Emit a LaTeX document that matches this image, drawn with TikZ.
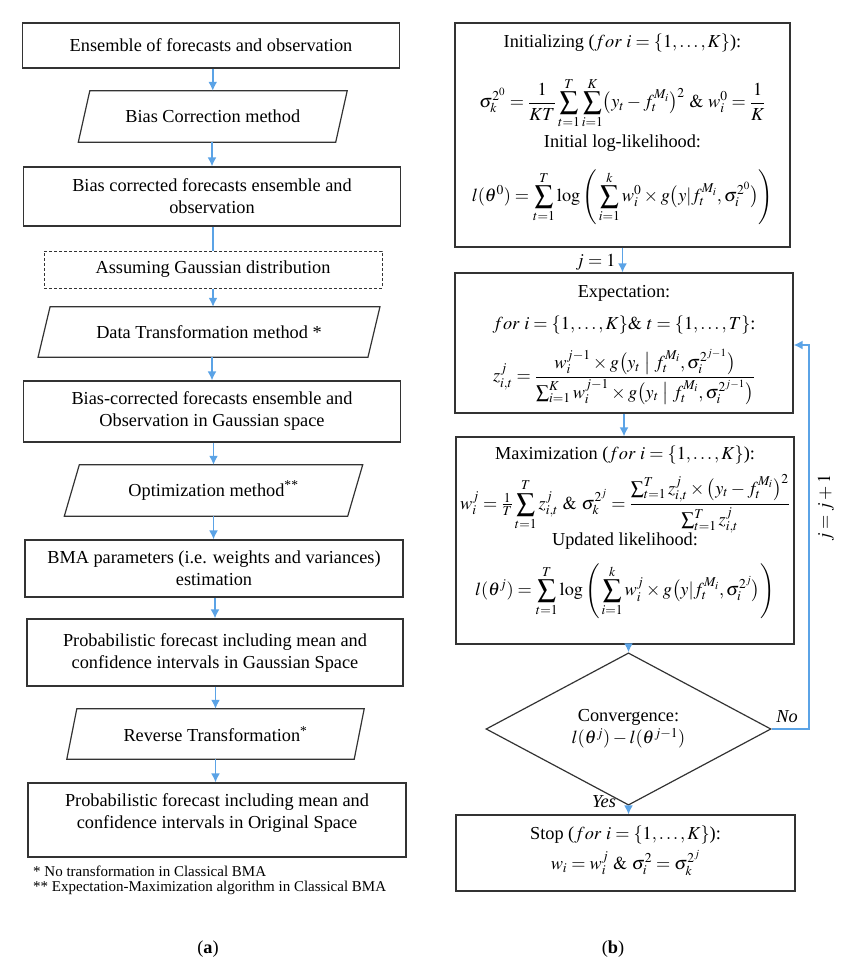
\documentclass[tikz,border=0pt]{standalone}
\usepackage{amsmath}
\usepackage{mathptmx}
\usepackage{fontspec}
\setmainfont{Liberation Serif}
\usetikzlibrary{calc,arrows.meta,shapes.geometric}
\definecolor{flowblue}{RGB}{91,163,230}
\def\paraframe(#1)(#2){\draw[boxline] ($(#1.north west)+(#2,0)$) -- ($(#1.north east)+(#2,0)$) -- ($(#1.south east)-(#2,0)$) -- ($(#1.south west)-(#2,0)$) -- cycle;}
\tikzset{
	boxline/.style={draw=black!80, line width=1.2pt},
	box/.style={boxline, rectangle, inner sep=0pt, align=center},
	para/.style={rectangle, inner sep=0pt, align=center},
	link/.style={draw=flowblue, line width=1.6pt},
	flow/.style={link, -{Latex[length=9pt,width=9pt]}},
	note/.style={inner sep=0pt, anchor=west, font=\fontsize{15}{17}\selectfont}
}

\begin{document}
\begin{tikzpicture}[x=1pt, y=-1pt, font=\fontsize{18.3}{22}\selectfont]
		%%%%% START %%%%%
		\useasboundingbox (0,0) rectangle (850,963);
		
		% left column
		\node[box, minimum width=377pt, minimum height=45pt] (ens) at (211,45.5) {Ensemble of forecasts and observation};
		\node[para, minimum width=257pt, minimum height=51pt] (bcm) at (212.75,116.5) {Bias Correction method};
		\paraframe(bcm)(5.75)
		\node[box, minimum width=377pt, minimum height=59pt] (bco) at (212,196.5) {Bias corrected forecasts ensemble and\\observation};
		\node[box, dashed, dash pattern=on 3pt off 2pt, line width=1pt, minimum width=338pt, minimum height=37pt] (gauss) at (213,269.5) {Assuming Gaussian distribution};
		\node[para, minimum width=329.5pt, minimum height=50pt] (dtm) at (209,332) {Data Transformation method *};
		\paraframe(dtm)(6)
		\node[box, minimum width=377pt, minimum height=61pt] (bgs) at (212,411.5) {Bias-corrected forecasts ensemble and\\Observation in Gaussian space};
		\node[para, minimum width=283pt, minimum height=51pt] (opt) at (213.5,490.5) {Optimization method\textsuperscript{**}};
		\paraframe(opt)(7.5)
		\node[box, minimum width=378pt, minimum height=57pt] (bma) at (214,568.5) {BMA parameters (i.e. weights and variances)\\estimation};
		\node[box, minimum width=376pt, minimum height=67pt] (pgs) at (215,652.5) {Probabilistic forecast including mean and\\confidence intervals in Gaussian Space};
		\node[para, minimum width=287pt, minimum height=50pt] (rev) at (215.5,734) {Reverse Transformation\textsuperscript{*}};
		\paraframe(rev)(5)
		\node[box, minimum width=378pt, minimum height=74pt] (pos) at (217,820) {};
		\node (posText) at (217,813) [align=center] {Probabilistic forecast including mean and\\confidence intervals in Original Space};
		
		\draw[flow] (ens.south -| bcm.north) -- (bcm.north);
		\draw[flow] (bcm.south -| bco.north) -- (bco.north);
		\draw[link] (bco.south -| gauss.north) -- (gauss.north);
		\draw[flow] (gauss.south) -- (gauss.south |- dtm.north);
		\draw[flow] (dtm.south -| bgs.north) -- (bgs.north);
		\draw[flow] (bgs.south -| opt.north) -- (opt.north);
		\draw[flow] (opt.south -| opt.north) -- (opt.north |- bma.north);
		\draw[flow] (bma.south -| pgs.north) -- (pgs.north);
		\draw[flow] (pgs.south -| rev.north) -- (rev.north);
		\draw[flow] (rev.south) -- (rev.south |- pos.north);
		
		\node[note] (fnA) at (33,871) {* No transformation in Classical BMA};
		\node[note] (fnB) at (33,888) {** Expectation-Maximization algorithm in Classical BMA};
		
		% right column
		\node[box, minimum width=335pt, minimum height=224pt] (init) at (622.5,135) {};
		\node (initHead) at (622.5,43) {Initializing ($for\ i=\{1,\dots,K\}$):};
		\node (initEq) at (622.5,103) {$\displaystyle \sigma_k^{2^0}=\frac{1}{KT}\sum_{t=1}^{T}\sum_{i=1}^{K}\bigl(y_t-f_t^{M_i}\bigr)^2\ \&\ w_i^0=\frac{1}{K}$};
		\node (initLog) at (622.5,143) {Initial log-likelihood:};
		\node (initLik) at (622.5,197) {$\displaystyle l(\theta^0)=\sum_{t=1}^{T}\log\left(\,\sum_{i=1}^{k}w_i^0\times g\bigl(y|f_t^{M_i},\sigma_i^{2^0}\bigr)\right)$};
		
		\node[box, minimum width=338pt, minimum height=140pt] (exp) at (624,343) {};
		\node (expHead) at (624,293) {Expectation:};
		\node (expFor) at (624,325) {$for\ i=\{1,\dots,K\}\&\ t=\{1,\dots,T\}$:};
		\node (expEq) at (624,377) {$\displaystyle z_{i,t}^{j}=\frac{w_i^{j-1}\times g\bigl(y_t\bigm|f_t^{M_i},\sigma_i^{2^{j-1}}\bigr)}{\sum_{i=1}^{K}w_i^{j-1}\times g\bigl(y_t\bigm|f_t^{M_i},\sigma_i^{2^{j-1}}\bigr)}$};
		
		\node[box, minimum width=338pt, minimum height=207pt] (max) at (625,540.5) {};
		\node (maxHead) at (625,455) {Maximization ($for\ i=\{1,\dots,K\}$):};
		\node (maxEq) at (625,504) {$\displaystyle w_i^j=\tfrac{1}{T}\sum_{t=1}^{T}z_{i,t}^j\ \&\ \sigma_k^{2^j}=\frac{\sum_{t=1}^{T}z_{i,t}^j\times\bigl(y_t-f_t^{M_i}\bigr)^2}{\sum_{t=1}^{T}z_{i,t}^j}$};
		\node (maxUpd) at (625,541) {Updated likelihood:};
		\node (maxLik) at (625,591) {$\displaystyle l(\theta^j)=\sum_{t=1}^{T}\log\left(\,\sum_{i=1}^{k}w_i^j\times g\bigl(y|f_t^{M_i},\sigma_i^{2^j}\bigr)\right)$};
		
		\node[boxline, diamond, inner sep=0pt, align=center, minimum width=285pt, minimum height=118pt] (conv) at (628.5,729) {Convergence:\\$l(\theta^j)-l(\theta^{j-1})$};
		
		\node[box, minimum width=339pt, minimum height=76pt] (stop) at (625.5,853) {};
		\node (stopHead) at (625.5,835) {Stop ($for\ i=\{1,\dots,K\}$):};
		\node (stopEq) at (625.5,863) {$w_i=w_i^j\ \&\ \sigma_i^2=\sigma_k^{2^j}$};
		
		\draw[flow] (init.south) -- (init.south |- exp.north);
		\draw[flow] (exp.south) -- (exp.south |- max.north);
		\draw[flow] (conv.north |- max.south) -- (conv.north);
		\draw[flow] (conv.south) -- (conv.south |- stop.north);
		\coordinate (loop) at (809,345);
		\draw[flow] (conv.east) -| (loop) -- (loop -| exp.east);
		
		\node[anchor=east] (jone) at (619,262) {$j=1$};
		\node (no) at (787,717) {\textit{No}};
		\node (yes) at (604,802) {\textit{Yes}};
		\node[rotate=90] (jinc) at (826,508) {$j=j+1$};
		
		\node (capA) at (208,949) {(\textbf{a})};
		\node (capB) at (613,949) {(\textbf{b})};
		%%%%% END %%%%%
	\end{tikzpicture}
\end{document}
